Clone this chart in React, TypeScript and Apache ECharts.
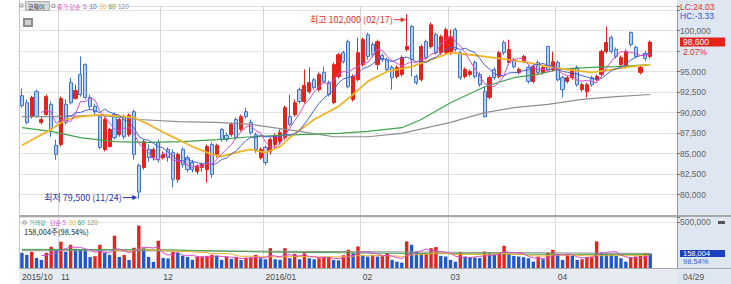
import { useEffect, useRef } from 'react';
import * as echarts from 'echarts';

// ---------- data ----------
const months = ['2015/10', '2015/11', '2015/12', '2016/01', '2016/02', '2016/03', '2016/04'];
const monthLabels = ['2015/10', '11', '12', '2016/01', '02', '03', '04'];
const monthDays: number[][] = [
  [21, 22, 23, 26, 27, 28, 29, 30],
  [2, 3, 4, 5, 6, 9, 10, 11, 12, 13, 16, 17, 18, 19, 20, 23, 24, 25, 26, 27, 30],
  [1, 2, 3, 4, 7, 8, 9, 10, 11, 14, 15, 16, 17, 18, 21, 22, 23, 24, 28, 29, 30],
  [4, 5, 6, 7, 8, 11, 12, 13, 14, 15, 18, 19, 20, 21, 22, 25, 26, 27, 28, 29],
  [1, 2, 3, 4, 5, 11, 12, 15, 16, 17, 18, 19, 22, 23, 24, 25, 26, 29],
  [2, 3, 4, 7, 8, 9, 10, 11, 14, 15, 16, 17, 18, 21, 22, 23, 24, 25, 28, 29, 30, 31],
  [1, 4, 5, 6, 7, 8, 11, 12, 14, 15, 18, 19, 20, 21, 22, 25, 26, 27, 28, 29],
];
const emptySlots = 5;

// [open, close, low, high]
const ohlc: number[][] = [
  [92050, 90850, 90600, 92950], [91200, 88800, 88550, 91600], [89500, 91850, 89250, 92050], [92550, 89500, 89400, 92800],
  [88800, 89150, 88550, 89500], [89750, 91950, 89650, 92200], [91000, 87950, 87050, 91350], [86000, 84900, 84250, 86700],
  [86100, 91700, 85850, 91950], [91000, 88800, 88550, 91600], [93650, 91200, 91000, 94250], [91700, 92700, 91600, 93400],
  [94650, 92200, 91950, 96850], [95850, 91850, 91600, 96000], [91850, 90750, 90350, 92200], [90750, 90100, 89750, 91100],
  [89500, 85750, 85500, 89750], [85500, 89150, 85250, 89400], [85850, 87950, 85750, 88150], [89750, 86950, 86700, 90000],
  [87300, 89150, 87050, 89400], [89500, 87050, 86700, 89750], [87300, 89650, 87050, 89900], [90100, 84900, 84250, 90350],
  [83550, 80300, 79500, 83800], [83300, 86450, 83050, 86700], [85500, 84500, 84000, 86100], [84500, 85500, 84150, 85750],
  [86350, 84250, 83900, 86700], [84500, 84900, 84250, 85250], [85500, 84500, 84000, 85750], [85100, 81850, 80850, 85500],
  [81850, 84900, 81450, 85100], [85500, 83650, 83300, 85750], [84500, 83050, 82700, 84750], [83900, 83050, 82700, 84250],
  [82800, 83400, 82450, 83650], [83300, 83650, 82800, 83900], [83050, 85850, 81450, 86100], [86100, 82450, 82050, 86350],
  [84900, 86000, 84500, 86200], [87950, 86700, 86450, 88150], [87200, 86700, 86450, 87550], [87300, 88550, 87050, 88800],
  [89150, 86950, 86700, 89400], [87950, 89500, 87700, 89750], [90100, 89500, 89250, 90600], [88800, 87550, 87300, 89150],
  [87300, 85500, 85100, 87550], [84500, 85500, 84250, 85750], [85750, 83900, 83550, 86000], [85250, 86700, 84900, 86950],
  [86100, 87200, 85750, 87450], [86450, 87550, 86100, 87950], [86950, 90600, 86700, 90850], [89500, 88550, 88300, 92200],
  [89750, 91200, 89500, 91600], [92800, 91350, 91100, 93050], [91350, 93300, 91100, 95250], [92550, 93650, 92300, 95500],
  [94000, 93050, 92800, 94250], [92800, 94650, 92550, 94900], [94900, 93800, 93550, 95600], [93650, 92200, 91950, 93900],
  [91200, 95850, 91000, 96100], [94400, 97050, 94150, 97300], [97300, 96200, 96000, 97550], [98650, 93150, 92950, 98900],
  [91600, 94400, 91350, 94650], [94000, 97300, 93800, 99150], [95850, 98900, 95600, 99150], [99500, 96850, 96450, 99750],
  [98300, 97050, 96700, 98550], [95850, 98650, 95250, 98900], [96950, 96450, 96200, 97200], [96450, 95250, 95000, 96700],
  [95500, 94250, 92800, 95750], [94400, 95500, 94150, 95750], [94650, 96700, 94400, 96950], [97700, 98050, 97450, 102000],
  [100500, 96450, 94400, 100700], [94400, 93650, 93400, 94650], [94000, 98050, 93800, 98300], [98650, 96700, 96450, 98900],
  [98050, 100700, 97800, 101000], [99500, 97300, 97050, 99750], [97300, 99250, 97050, 99500], [97300, 100100, 97050, 100350],
  [97300, 99250, 97050, 100100], [100100, 97700, 97450, 100350], [97300, 94250, 94000, 97550], [94400, 95250, 94150, 95500],
  [94650, 95000, 94400, 95250], [96100, 94400, 94150, 96350], [94650, 93400, 93150, 94900], [92550, 89500, 89400, 93150],
  [91850, 94250, 91600, 94500], [95250, 94250, 94000, 95500], [94400, 97300, 94150, 97550], [98550, 97300, 97050, 98800],
  [96100, 97700, 95850, 98900], [96450, 95600, 95350, 96700], [94900, 95250, 94650, 95500], [96200, 96850, 96000, 97050],
  [95500, 93800, 93550, 95750], [93800, 95600, 93550, 95850], [96100, 94900, 94650, 96350], [94900, 95500, 94650, 95750],
  [98050, 95250, 95000, 98150], [95250, 96200, 95000, 97450], [96100, 94000, 93800, 96350], [94250, 92800, 91850, 94500],
  [93800, 94250, 93550, 94500], [94250, 95250, 94000, 95500], [95500, 93400, 93150, 95750], [92800, 93400, 92550, 93650],
  [92550, 93400, 91850, 93650], [94250, 93400, 93150, 94500], [94000, 94400, 93800, 94650], [94650, 97450, 94400, 97700],
  [97450, 98550, 97200, 100500], [99150, 97450, 97200, 99400], [97700, 96850, 96600, 97950], [95850, 96700, 95600, 96950],
  [95600, 97450, 95350, 97700], [99750, 98300, 98050, 99900], [97950, 96850, 96600, 98150], [94900, 95500, 94650, 95750],
  [97200, 96600, 96300, 97550], [96850, 98600, 96600, 98800],
];

const volumes: number[] = [
  167000, 144000, 178000, 111000, 89000, 167000, 233000, 200000, 289000, 178000, 255000, 211000, 205000, 200000, 120000, 130000,
  255000, 167000, 144000, 355000, 122000, 144000, 89000, 222000, 466000, 222000, 122000, 67000, 300000, 111000, 105000, 178000,
  167000, 133000, 122000, 89000, 122000, 128000, 133000, 144000, 135000, 89000, 122000, 100000, 122000, 89000, 111000, 118000,
  144000, 107000, 96000, 218000, 96000, 90000, 218000, 107000, 155000, 96000, 163000, 107000, 96000, 107000, 118000, 122000,
  89000, 85000, 140000, 200000, 163000, 237000, 144000, 126000, 144000, 126000, 133000, 163000, 89000, 70000, 59000, 292000,
  255000, 181000, 155000, 163000, 218000, 230000, 133000, 126000, 89000, 70000, 174000, 126000, 120000, 115000, 110000, 181000,
  163000, 144000, 163000, 244000, 155000, 133000, 126000, 118000, 107000, 70000, 126000, 96000, 170000, 200000, 155000, 89000,
  144000, 133000, 89000, 96000, 118000, 126000, 292000, 170000, 155000, 144000, 133000, 107000, 70000, 118000, 126000, 133000,
  160345, 158004,
];

// moving-average lines: [index, value]
const ma20Pts: number[][] = [
  [0, 86000], [6, 87950], [9, 89150], [12, 89500], [16, 89750], [18, 89650], [23, 89400], [26, 88550], [30, 87300],
  [35, 85850], [39, 84900], [41, 84650], [45, 85250], [47, 85500], [50, 85100], [53, 85850], [55, 86950], [60, 89150],
  [65, 90750], [68, 92200], [71, 93800], [75, 95000], [80, 95600], [84, 96450], [88, 97300], [92, 97050], [98, 96600],
  [104, 96100], [108, 95600], [112, 95250], [117, 94900], [121, 95250], [125, 95600], [129, 95850],
];
const ma60Pts: number[][] = [
  [0, 88150], [6, 87700], [12, 86950], [19, 86450], [26, 86350], [33, 86450], [40, 86700], [47, 87050], [57, 87300],
  [65, 87450], [71, 87700], [78, 88150], [82, 89150], [88, 91200], [95, 93150], [101, 94250], [106, 94650], [110, 95250],
  [117, 95500], [122, 95600], [129, 95850],
];
const ma120Pts: number[][] = [
  [0, 89500], [6, 89500], [16, 89650], [24, 89150], [32, 88900], [40, 88800], [47, 88550], [57, 87700], [64, 87050],
  [71, 87050], [78, 87450], [88, 88800], [95, 90000], [101, 90600], [108, 91000], [115, 91600], [122, 91950], [129, 92200],
];
const volMa60Pts: number[][] = [[0, 205000], [30, 200000], [50, 175000], [80, 160000], [110, 150000], [129, 150000]];
const volMa120Pts: number[][] = [[0, 190000], [50, 185000], [129, 160000]];

const priceLabels = [80000, 82500, 85000, 87500, 90000, 92500, 95000, 100000];

// ---------- helpers ----------
const F = '"Liberation Sans", Arial, sans-serif';
const K = '"Noto Sans CJK KR", "Noto Sans", sans-serif';
const RED = '#e5231b';
const BLUE_VOL = '#1f58cc';
const C5 = '#d54ccb';
const C10 = '#4a5fd0';
const C20 = '#f0b429';
const C60 = '#3fa34d';
const C120 = '#8f8f8f';

const fmt = (v: number) => v.toLocaleString('en-US');

export default function App() {
  const ref = useRef<HTMLDivElement>(null);

  useEffect(() => {
    document.body.style.margin = '0';
    if (!ref.current) return;

    const cats: string[] = [];
    const monthStart = new Map<number, string>();
    months.forEach((m, mi) => {
      monthStart.set(cats.length, monthLabels[mi]);
      monthDays[mi].forEach((d) => cats.push(`${m}/${String(d).padStart(2, '0')}`));
    });
    const nData = cats.length;
    for (let i = 0; i < emptySlots; i++) cats.push('');

    const closes = ohlc.map((d) => d[1]);
    const sma = (arr: number[], n: number) =>
      arr.map((_, i) => (i < n - 1 ? '-' : Math.round(arr.slice(i - n + 1, i + 1).reduce((a, b) => a + b, 0) / n)));

    const volData = volumes.map((v, i) => ({
      value: v,
      itemStyle: { color: i > 0 && v > volumes[i - 1] ? RED : BLUE_VOL },
    }));

    const isStart = (i: number) => monthStart.has(i);

    const chart = echarts.init(ref.current, null, { renderer: 'svg' });
    const option: any = {
      animation: false,
      backgroundColor: '#ffffff',
      grid: [
        { left: 19.5, right: 54, top: 6, height: 209 },
        { left: 19.5, right: 54, top: 217, height: 51 },
      ],
      xAxis: [
        {
          type: 'category', gridIndex: 0, data: cats, boundaryGap: true,
          axisLine: { show: true, lineStyle: { color: '#b8b8b8', width: 1 } },
          axisTick: { show: false }, axisLabel: { show: false },
          splitLine: { show: true, interval: (i: number) => isStart(i) && i > 0, lineStyle: { color: '#d8d8d8' } },
        },
        {
          type: 'category', gridIndex: 1, data: cats, boundaryGap: true,
          axisLine: { show: true, lineStyle: { color: '#b8b8b8' } },
          axisTick: { show: false },
          axisLabel: {
            show: true, interval: (i: number) => isStart(i),
            formatter: (_v: string, i: number) => monthStart.get(i) ?? '',
            align: 'left', color: '#4a4a4a', fontSize: 8.5, fontFamily: F, margin: 4,
          },
          splitLine: { show: true, interval: (i: number) => isStart(i) && i > 0, lineStyle: { color: '#d8d8d8' } },
        },
      ],
      yAxis: [
        {
          type: 'value', gridIndex: 0, position: 'right', min: 77500, max: 103000, interval: 2500,
          axisLine: { show: true, lineStyle: { color: '#9a9a9a' } },
          axisTick: { show: true, length: 3, lineStyle: { color: '#777' } },
          axisLabel: {
            color: '#666', fontSize: 8.5, fontFamily: F, margin: 3,
            formatter: (v: number) => (priceLabels.includes(v) ? fmt(v) : ''),
          },
          splitLine: { show: true, lineStyle: { color: '#e3e3e3' } },
        },
        {
          type: 'value', gridIndex: 1, position: 'right', min: 0, max: 560000, interval: 500000,
          axisLine: { show: true, lineStyle: { color: '#9a9a9a' } },
          axisTick: { show: true, length: 3, lineStyle: { color: '#777' } },
          axisLabel: {
            color: '#666', fontSize: 8.5, fontFamily: F, margin: 3,
            formatter: (v: number) => (v === 500000 ? fmt(v) : ''),
          },
          splitLine: { show: true, lineStyle: { color: '#e3e3e3' } },
        },
      ],
      series: [
        {
          type: 'candlestick', xAxisIndex: 0, yAxisIndex: 0, data: ohlc, barWidth: 3.6,
          itemStyle: { color: RED, color0: '#b7cff0', borderColor: RED, borderColor0: '#3c72d2', borderWidth: 1 },
        },
        { type: 'line', xAxisIndex: 0, yAxisIndex: 0, data: ma120Pts, showSymbol: false, lineStyle: { color: C120, width: 1.2 } },
        { type: 'line', xAxisIndex: 0, yAxisIndex: 0, data: ma60Pts, showSymbol: false, lineStyle: { color: C60, width: 1.2 } },
        { type: 'line', xAxisIndex: 0, yAxisIndex: 0, data: ma20Pts, showSymbol: false, lineStyle: { color: C20, width: 1.8 } },
        { type: 'line', xAxisIndex: 0, yAxisIndex: 0, data: sma(closes, 10), showSymbol: false, lineStyle: { color: C10, width: 1 } },
        { type: 'line', xAxisIndex: 0, yAxisIndex: 0, data: sma(closes, 5), showSymbol: false, lineStyle: { color: C5, width: 1 } },
        { type: 'bar', xAxisIndex: 1, yAxisIndex: 1, data: volData, barWidth: 3.4 },
        { type: 'line', xAxisIndex: 1, yAxisIndex: 1, data: volMa120Pts, showSymbol: false, lineStyle: { color: C120, width: 1 } },
        { type: 'line', xAxisIndex: 1, yAxisIndex: 1, data: volMa60Pts, showSymbol: false, lineStyle: { color: C60, width: 1 } },
        { type: 'line', xAxisIndex: 1, yAxisIndex: 1, data: sma(volumes, 20), showSymbol: false, lineStyle: { color: C20, width: 1 } },
        { type: 'line', xAxisIndex: 1, yAxisIndex: 1, data: sma(volumes, 5), showSymbol: false, lineStyle: { color: C5, width: 1 } },
      ],
    };
    chart.setOption(option);

    // derived figures
    const lows = ohlc.map((d) => d[2]);
    const highs = ohlc.map((d) => d[3]);
    const lo = Math.min(...lows);
    const hi = Math.max(...highs);
    const loIdx = lows.indexOf(lo);
    const hiIdx = highs.indexOf(hi);
    const last = closes[nData - 1];
    const prev = closes[nData - 2];
    const lastVol = volumes[nData - 1];
    const prevVol = volumes[nData - 2];
    const lc = ((last / lo - 1) * 100).toFixed(2);
    const hc = ((last / hi - 1) * 100).toFixed(2);
    const chg = ((last / prev - 1) * 100).toFixed(2);
    const vr = ((lastVol / prevVol) * 100).toFixed(2);
    const mmdd = (i: number) => cats[i].slice(5);

    const p = (i: number, v: number) => chart.convertToPixel({ xAxisIndex: 0, yAxisIndex: 0 }, [i, v]) as number[];
    const pv = (i: number, v: number) => chart.convertToPixel({ xAxisIndex: 1, yAxisIndex: 1 }, [i, v]) as number[];
    const hp = p(hiIdx, hi);
    const lp = p(loIdx, lo);
    const cy = p(nData - 1, last)[1];
    const vy = pv(nData - 1, lastVol)[1];

    const txt = (x: number, y: number, text: string, fill: string, font: string, align = 'left') => ({
      type: 'text', x, y, silent: true, z: 20,
      style: { text, fill, font, align, verticalAlign: 'middle' },
    });
    const arrow = (x1: number, x2: number, y: number, color: string) => [
      { type: 'line', silent: true, z: 20, shape: { x1, y1: y, x2: x2 - 4, y2: y }, style: { stroke: color, lineWidth: 1 } },
      { type: 'polygon', silent: true, z: 20, shape: { points: [[x2 - 5, y - 2.5], [x2, y], [x2 - 5, y + 2.5]] }, style: { fill: color } },
    ];

    const f8 = `8.5px ${F}`;
    const f7 = `7.5px ${F}`;
    const k6 = `6px ${K}`;
    const n6 = `6.5px ${F}`;
    const k9 = `9px ${K}`;
    const graphic: any[] = [
      { type: 'rect', silent: true, z: -5, shape: { x: 677, y: 0, width: 54, height: 284 }, style: { fill: '#dde6f1' } },
      { type: 'rect', silent: true, z: -5, shape: { x: 19.5, y: 268.5, width: 657.5, height: 15.5 }, style: { fill: '#e6ebf2' } },
      { type: 'line', silent: true, z: 5, shape: { x1: 19.5, y1: 0, x2: 19.5, y2: 268 }, style: { stroke: '#c8c8c8', lineWidth: 1 } },
      { type: 'line', silent: true, z: 5, shape: { x1: 19.5, y1: 216, x2: 731, y2: 216 }, style: { stroke: '#a9a9a9', lineWidth: 2 } },
      { type: 'line', silent: true, z: 5, shape: { x1: 19.5, y1: 268.5, x2: 731, y2: 268.5 }, style: { stroke: '#a9a9a9', lineWidth: 1 } },
      // top legend
      { type: 'rect', silent: true, z: 20, shape: { x: 20, y: 4, width: 3, height: 3 }, style: { fill: 'none', stroke: '#888', lineWidth: 0.8 } },
      { type: 'rect', silent: true, z: 19, shape: { x: 25.5, y: 1.5, width: 24, height: 9 }, style: { fill: '#d8d8d8', stroke: '#a0a0a0', lineWidth: 0.8 } },
      txt(28, 6, '코웨이', '#333', k6),
      { type: 'rect', silent: true, z: 20, shape: { x: 52, y: 4.5, width: 3, height: 3 }, style: { fill: 'none', stroke: '#888', lineWidth: 0.8 } },
      txt(57, 6, '종가 단순', C5, k6),
      txt(83, 6, '5', C5, n6),
      txt(89.5, 6, '10', C10, n6),
      txt(99.5, 6, '20', C20, n6),
      txt(108.5, 6, '60', C60, n6),
      txt(118, 6, '120', C120, n6),
      { type: 'rect', silent: true, z: 20, shape: { x: 23, y: 18, width: 10, height: 9 }, style: { fill: '#8c8c8c' } },
      { type: 'rect', silent: true, z: 21, shape: { x: 25, y: 20, width: 6, height: 5 }, style: { fill: '#cfcfcf' } },
      // volume legend
      { type: 'rect', silent: true, z: 20, shape: { x: 23, y: 221, width: 3, height: 3 }, style: { fill: 'none', stroke: '#888', lineWidth: 0.8 } },
      txt(29, 222.5, '거래량', '#48a9a6', k6),
      txt(50, 222.5, '단순 5', C5, k6),
      txt(69, 222.5, '20', C20, n6),
      txt(77.5, 222.5, '60', C60, n6),
      txt(87, 222.5, '120', C120, n6),
      txt(24, 231, `${fmt(lastVol)}주(${vr}%)`, '#222', `7.5px ${K}`),
      // right-side labels
      txt(680, 7, `LC:${lc}`, '#e0302a', f8),
      txt(680, 16, `HC:${hc}`, '#2f55cf', f8),
      { type: 'rect', silent: true, z: 19, shape: { x: 680, y: cy - 4.5, width: 45, height: 9 }, style: { fill: RED } },
      txt(683, cy, fmt(last), '#ffffff', f8),
      txt(683, cy + 9.5, `${chg}%`, '#e0302a', f8),
      { type: 'rect', silent: true, z: 19, shape: { x: 680, y: vy - 3.5, width: 45, height: 7 }, style: { fill: '#1b3fbf' } },
      txt(683, vy, fmt(lastVol), '#ffffff', f7),
      txt(683, vy + 8, `${vr}%`, '#3a5fd0', f7),
      txt(683, 277, mmdd(nData - 1), '#555', f8),
      { type: 'rect', silent: true, z: 20, shape: { x: 718, y: 221, width: 7, height: 3 }, style: { fill: '#555' } },
      // high / low annotations
      txt(hp[0] - 14, hp[1] + 5.5, `최고 ${fmt(hi)} (${mmdd(hiIdx)})`, '#e0302a', k9, 'right'),
      ...arrow(hp[0] - 13, hp[0] - 1, hp[1] + 5.5, '#e0302a'),
      txt(lp[0] - 17, lp[1] - 1, `최저 ${fmt(lo)} (${mmdd(loIdx)})`, '#2434a8', k9, 'right'),
      ...arrow(lp[0] - 16, lp[0] - 1.5, lp[1] - 1, '#2434a8'),
    ];
    chart.setOption({ graphic });

    return () => chart.dispose();
  }, []);

  return <div ref={ref} style={{ width: 731, height: 284 }} />;
}
